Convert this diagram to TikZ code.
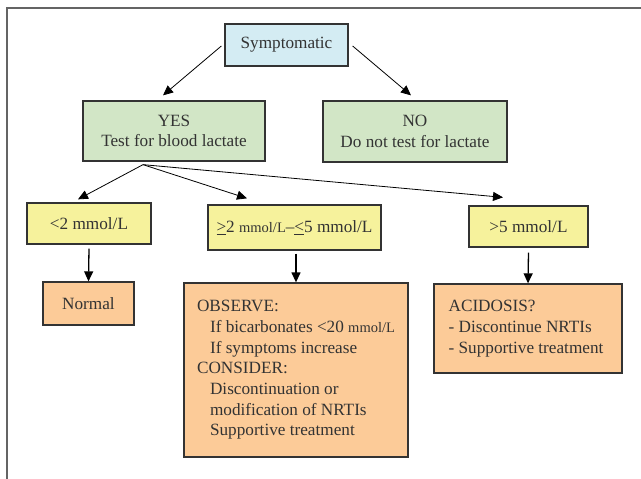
\documentclass[tikz,border=0pt]{standalone}
\usepackage{fontspec}
\setmainfont{Liberation Serif}
\usetikzlibrary{arrows.meta, calc}
\usepackage{xcolor}

\definecolor{symblue}{RGB}{212,236,243}
\definecolor{ansgreen}{RGB}{210,230,198}
\definecolor{lvlyellow}{RGB}{246,242,156}
\definecolor{actorange}{RGB}{252,203,152}
\definecolor{boxline}{RGB}{51,51,51}
\definecolor{frameline}{RGB}{100,100,100}

\newcommand{\smunit}{{\fontsize{14.5}{17}\selectfont mmol/L}}
\newcommand{\ulgt}[1]{\underline{#1}}

\begin{document}
\begin{tikzpicture}[x=1pt, y=-1pt, >={Triangle[length=10pt,width=9pt]},
  box/.style={draw=boxline, line width=1.3pt, inner sep=0pt, align=center,
    text=boxline, font=\fontsize{17.2}{20.7}\selectfont},
  notebox/.style={box, align=left},
  arr/.style={->, line width=0.8pt},
  downarr/.style={->, line width=1.3pt}]
\useasboundingbox (0,0) rectangle (641,479);
\draw[frameline, line width=1.5pt] (7,479) -- (7,8) -- (641,8);

% question and answers
\node[box, fill=symblue, minimum width=123pt, minimum height=42pt] (sym) at (286.5,45) {Symptomatic};
\node[box, fill=ansgreen, minimum width=182pt, minimum height=60pt] (yes) at (174,131) {YES\\Test for blood lactate};
\node[box, fill=ansgreen, minimum width=184pt, minimum height=61pt] (no) at (415,131.5) {NO\\Do not test for lactate};

% lactate levels
\node[box, fill=lvlyellow, minimum width=124pt, minimum height=41pt] (low) at (89,223.5) {<2 mmol/L};
\node[box, fill=lvlyellow, minimum width=173pt, minimum height=45pt] (mid) at (294.5,227.5) {\ulgt{>}2 \smunit--\ulgt{<}5 mmol/L};
\node[box, fill=lvlyellow, minimum width=119pt, minimum height=41pt] (high) at (528.5,226.5) {>5 mmol/L};

% actions
\node[box, fill=actorange, minimum width=91pt, minimum height=43pt] (normal) at (88.5,303.5) {Normal};
\node[notebox, fill=actorange, minimum width=224pt, minimum height=174pt] (observe) at (296,370) {OBSERVE:\\
\hspace*{13pt}If bicarbonates <20 \smunit\\
\hspace*{13pt}If symptoms increase\\
CONSIDER:\\
\hspace*{13pt}Discontinuation or\\
\hspace*{13pt}modification of NRTIs\\
\hspace*{13pt}Supportive treatment};
\node[notebox, fill=actorange, minimum width=188pt, minimum height=89pt] (acid) at (528,328.5) {ACIDOSIS?\\
- Discontinue NRTIs\\
- Supportive treatment\hspace*{4pt}};

\coordinate (fan) at ($(yes.south)+(-31,3)$);

\draw[arr] ($(sym.west)+(-3,1)$) -- ($(yes.north)+(-11,-5)$);
\draw[arr] ($(sym.east)+(4,1)$) -- ($(no.north)+(-4,-5)$);
\draw[arr] (fan) -- ($(low.north)+(-11,-3)$);
\draw[arr] (fan) -- ($(mid.north)+(-47.5,-6)$);
\draw[arr] (fan) -- ($(high.north)+(-25.5,-8)$);
\draw[downarr] ($(low.south)+(0,4)$) -- (normal.north);
\draw[downarr] ($(mid.south)+(1.5,3)$) -- (observe.north);
\draw[downarr] ($(high.south)+(0,5)$) -- (acid.north);
\end{tikzpicture}
\end{document}
